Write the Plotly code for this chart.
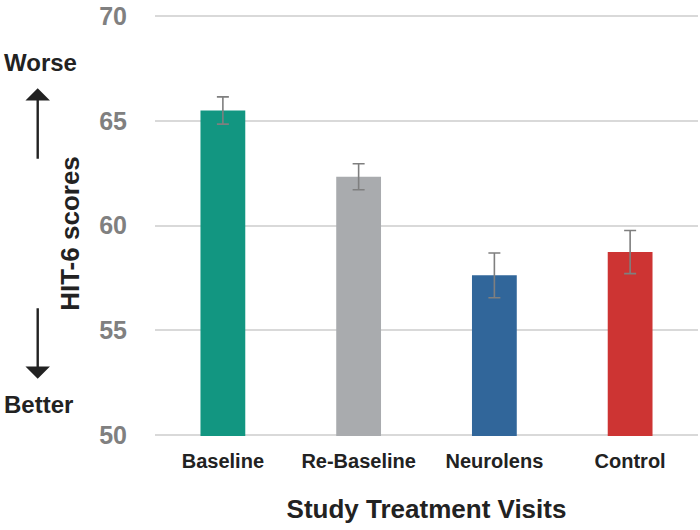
import plotly.graph_objs as go

visits = ['Baseline', 'Re-Baseline', 'Neurolens', 'Control']
scores = [65.49, 62.33, 57.62, 58.73]
errors = [0.65, 0.62, 1.07, 1.03]
bar_colors = ['#129681', '#a9abae', '#31669a', '#cd3433']

FONT = 'Arial, Liberation Sans, sans-serif'

trace = go.Bar(
    x=visits, y=scores,
    marker=dict(color=bar_colors, line=dict(width=0)),
    error_y=dict(type='data', array=errors, visible=True,
                 color='#7f7f7f', thickness=1.6, width=6),
    width=0.33,
)

layout = go.Layout(
    width=700, height=530,
    margin=dict(l=155, r=2, t=15, b=94),
    plot_bgcolor='white', paper_bgcolor='white',
    font=dict(family=FONT),
    showlegend=False,
    xaxis=dict(
        tickfont=dict(size=20, color='#222222', family=FONT, weight='bold'),
        showgrid=False, showline=False, ticks='',
        ticklabelstandoff=11,
        title=dict(text='<b>Study Treatment Visits</b>',
                   font=dict(size=26, color='#222222'), standoff=28),
    ),
    yaxis=dict(
        range=[49.95, 70.05], tickvals=[50, 55, 60, 65, 70],
        tickfont=dict(size=25, color='#808080', family=FONT, weight='bold'),
        showgrid=True, gridcolor='#d9d9d9', gridwidth=1.5,
        zeroline=False, showline=False, ticks='',
        ticklabelstandoff=27, ticklabeloverflow='allow',
    ),
)

fig = go.Figure(data=[trace], layout=layout)

fig.add_annotation(x=-0.157, y=0.482, xref='paper', yref='paper',
                   text='<b>HIT-6 scores</b>', textangle=-90, showarrow=False,
                   font=dict(size=26, color='#222222'), xanchor='center', yanchor='middle')
fig.add_annotation(x=-0.211, y=0.888, xref='paper', yref='paper',
                   text='<b>Worse</b>', showarrow=False,
                   font=dict(size=24, color='#222222'), xanchor='center', yanchor='middle')
fig.add_annotation(x=-0.215, y=0.076, xref='paper', yref='paper',
                   text='<b>Better</b>', showarrow=False,
                   font=dict(size=24, color='#222222'), xanchor='center', yanchor='middle')
# arrows
fig.add_annotation(x=-0.216, y=0.826, xref='paper', yref='paper', text='',
                   showarrow=True, ax=0, ay=72, arrowhead=1, arrowsize=1.7,
                   arrowwidth=2.4, arrowcolor='#222222')
fig.add_annotation(x=-0.216, y=0.136, xref='paper', yref='paper', text='',
                   showarrow=True, ax=0, ay=-72, arrowhead=1, arrowsize=1.7,
                   arrowwidth=2.4, arrowcolor='#222222')

# drop the default page margin so the figure sits at the window corner
fig.write_html("out.html", config={'displayModeBar': False},
               post_script="document.body.style.margin='0px';")
